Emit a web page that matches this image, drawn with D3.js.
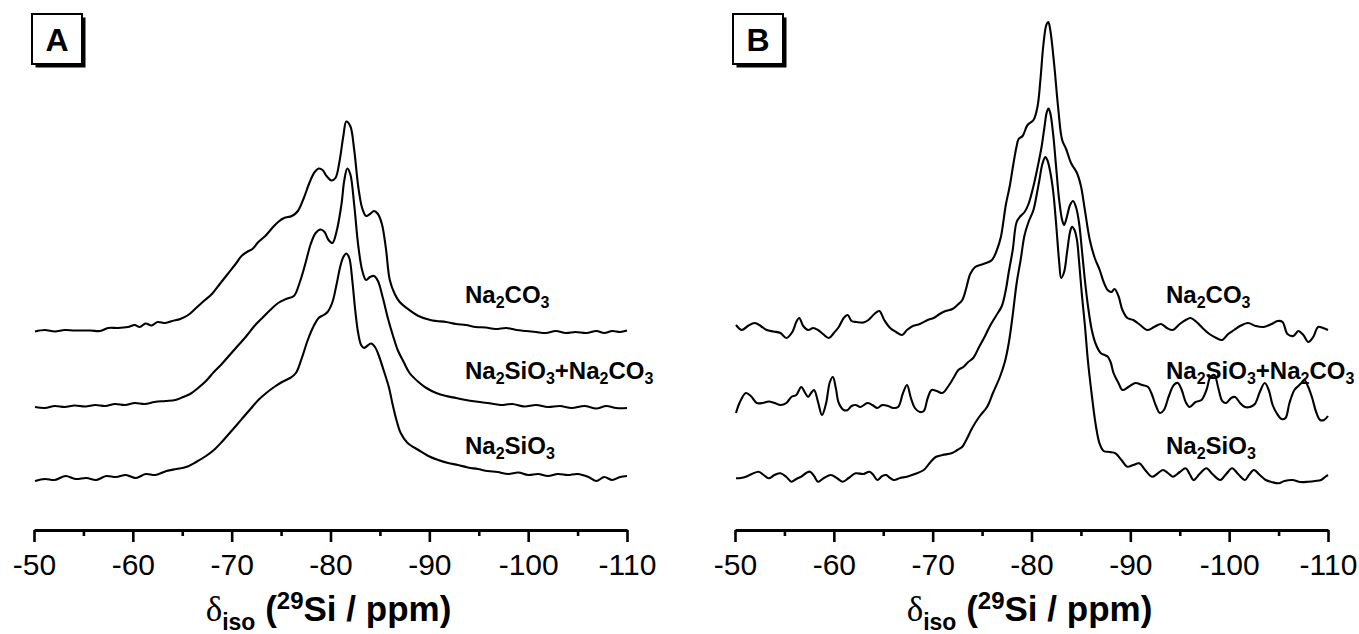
<!DOCTYPE html>
<html><head><meta charset="utf-8">
<script src="https://cdn.jsdelivr.net/npm/d3@7"></script>
<style>body{margin:0;background:#fff} svg{display:block}</style>
</head><body>
<svg id="chart" width="1359" height="634"></svg>
<script>
// ---------- data ----------
const majorTicks = [-50,-60,-70,-80,-90,-100,-110];
const minorTicks = [-55,-65,-75,-85,-95,-105];
const tickLabels = ["-50","-60","-70","-80","-90","-100","-110"];
const panelLabels = ["A","B"];
const sampleNames = ["Na2CO3","Na2SiO3+Na2CO3","Na2SiO3"];
const stackOffsetsA = [198,122,51];
const stackOffsetsB = [202,125,53];

// [ppm, intensity]
const specA_Na2CO3 = [[-50.1,0.5],[-51.1,2],[-52.1,0.5],[-53.1,2],[-54.1,1.5],[-55.7,1.5],[-56.7,1],[-57.5,4],[-58.5,4],[-59.5,5],[-60.2,7],[-60.7,5],[-61.3,8.5],[-61.9,6.5],[-62.5,10],[-63.3,9],[-64.0,11],[-64.8,13],[-65.6,17],[-66.4,24],[-67.3,32],[-68.0,38],[-68.8,48],[-69.6,58],[-70.4,68],[-71.0,76],[-71.7,81],[-72.1,83],[-72.7,90],[-73.4,96],[-74.1,104],[-74.7,110],[-75.3,114],[-76.1,116],[-76.7,121],[-77.3,134],[-77.9,150],[-78.4,160],[-78.8,163.5],[-79.2,162],[-79.6,156],[-80.1,151.5],[-80.5,154],[-80.9,170],[-81.3,196],[-81.6,210.5],[-82.0,206],[-82.4,182],[-82.8,146],[-83.2,124],[-83.6,116],[-84.0,118],[-84.4,121],[-84.8,118],[-85.2,108],[-85.6,84],[-86.0,52],[-86.5,38],[-87.0,30],[-87.7,24],[-88.9,16],[-90.1,12],[-90.7,11],[-91.7,10],[-92.7,8],[-93.7,7],[-94.7,5],[-95.7,4.5],[-96.7,3],[-97.8,4],[-98.8,2],[-99.8,1],[-100.8,0],[-101.8,-1],[-102.8,1],[-103.8,-1],[-104.8,0],[-105.9,-1],[-106.9,1],[-107.7,-1],[-108.5,1],[-109.3,0],[-110.0,1.5]];

const specA_Mix = [[-50.1,1],[-51.1,0],[-52.1,2],[-53.1,1],[-54.1,2.5],[-55.2,1.5],[-56.2,3],[-57.2,2],[-58.2,4],[-59.2,3],[-60.2,5],[-61.2,4],[-62.2,6],[-63.3,7],[-64.3,8],[-65.1,11],[-65.8,14],[-66.6,20],[-67.4,27],[-68.2,36],[-69.0,44],[-69.8,53],[-70.6,62],[-71.5,72],[-72.3,82],[-73.1,90],[-73.9,98],[-74.7,105],[-75.5,109],[-76.3,112],[-76.9,126],[-77.5,146],[-78.0,164],[-78.5,175],[-79.0,178.5],[-79.4,176],[-79.8,168],[-80.2,165],[-80.6,176],[-81.1,203],[-81.4,228],[-81.7,239.5],[-82.0,234],[-82.4,203],[-82.8,163],[-83.2,138],[-83.6,128],[-84.0,131],[-84.4,132],[-84.8,127],[-85.3,110],[-85.8,90],[-86.3,73],[-86.8,58],[-87.4,46],[-88.0,35],[-88.9,26],[-89.7,20],[-90.7,15],[-91.7,12],[-92.7,10],[-93.7,8],[-94.7,6.5],[-95.9,5],[-97.2,3],[-98.4,4],[-99.6,1.5],[-100.8,3],[-102.0,1],[-103.2,2],[-104.4,0],[-105.7,2],[-106.9,-0.5],[-107.9,2],[-108.9,0],[-110.0,0]];

const specA_Na2SiO3 = [[-50.1,-2],[-51.1,0],[-52.1,-1],[-53.2,3],[-54.2,0],[-55.3,1],[-56.3,-1],[-57.3,3],[-58.3,2],[-59.3,4],[-60.3,1],[-61.3,5],[-62.3,4],[-63.4,8],[-64.4,10],[-65.4,12],[-66.4,17],[-67.4,23],[-68.2,29],[-69.0,37],[-69.8,46],[-70.6,55],[-71.2,62],[-71.9,70],[-72.7,79],[-73.5,86],[-74.3,92],[-75.1,97],[-75.9,101],[-76.5,106],[-77.1,121],[-77.7,139],[-78.3,153],[-78.8,161],[-79.3,164],[-79.7,167],[-80.2,177],[-80.6,194],[-81.0,213],[-81.3,222],[-81.6,225.5],[-81.9,221],[-82.2,199],[-82.5,169],[-82.8,146],[-83.1,134],[-83.4,131],[-83.7,133],[-84.1,135.5],[-84.5,132],[-84.9,123],[-85.4,108],[-85.9,92],[-86.3,74],[-86.7,58],[-87.1,46],[-87.8,36],[-88.9,29],[-89.9,23],[-90.9,19],[-91.9,16],[-92.9,14],[-93.9,11.5],[-94.9,10],[-95.9,8],[-96.9,7],[-98.0,5],[-99.0,6.5],[-100.0,4],[-101.0,5],[-102.0,3],[-103.0,5],[-104.0,4],[-105.0,5],[-106.1,2],[-106.9,-2],[-107.7,2],[-108.5,-1],[-109.3,2],[-110.0,3]];

const specB_Na2CO3 = [[-50.1,3],[-50.7,-2],[-51.3,2],[-52.0,5],[-52.6,2],[-53.2,-2],[-53.9,-3.5],[-54.6,-5],[-55.2,-10],[-55.8,-4],[-56.2,6],[-56.5,10],[-56.9,2],[-57.4,-2],[-57.9,0],[-58.4,-2],[-58.9,-6],[-59.5,-10],[-60.0,-5],[-60.5,1],[-61.0,10],[-61.4,13],[-61.8,7],[-62.3,6],[-63.0,5.5],[-63.5,8],[-64.1,14],[-64.6,17],[-65.1,8],[-65.7,0],[-66.3,-4],[-66.9,-7],[-67.4,-2],[-68.0,2],[-68.7,4],[-69.5,8],[-70.1,10],[-70.7,14],[-71.3,17],[-72.0,19],[-72.5,23],[-73.0,28],[-73.4,40],[-73.8,54],[-74.3,61],[-74.8,63],[-75.4,65],[-76.0,68],[-76.5,78],[-76.9,91],[-77.4,123],[-77.8,142],[-78.2,166],[-78.5,182],[-78.7,189],[-79.1,192],[-79.6,203],[-80.2,208],[-80.6,221],[-80.9,248],[-81.2,283],[-81.5,303],[-81.7,306],[-81.9,298],[-82.3,263],[-82.7,220],[-83.1,188],[-83.5,179],[-84.0,165],[-84.6,155],[-85.0,142],[-85.4,118],[-85.9,88],[-86.4,70],[-86.9,58],[-87.3,46],[-87.7,38],[-88.1,36],[-88.4,39],[-88.8,32],[-89.2,18],[-89.7,10],[-90.3,8],[-91.0,3],[-91.7,-2],[-92.4,1],[-93.1,4],[-93.7,0],[-94.3,-2],[-95.0,4],[-95.6,8],[-96.1,10],[-96.7,6],[-97.3,0],[-98.0,-6],[-98.7,-10],[-99.3,-12],[-99.9,-6],[-100.5,-2],[-101.1,2],[-101.9,5],[-102.7,2],[-103.5,1],[-104.3,4],[-104.9,7],[-105.4,6],[-105.9,-6],[-106.5,-8],[-107.0,-3],[-107.5,-7],[-108.0,-14],[-108.5,-9],[-109.0,1],[-109.5,0],[-110.0,-2]];

const specB_Mix = [[-50.1,-8],[-50.5,3],[-51.1,12],[-51.6,9],[-52.2,2],[-52.8,2],[-53.4,3.5],[-54.0,2],[-54.6,0],[-55.2,2],[-55.7,8],[-56.2,10],[-56.7,18],[-57.1,12],[-57.4,8],[-57.7,12],[-58.0,15],[-58.4,3],[-58.8,-10],[-59.2,1],[-59.6,23],[-59.9,28],[-60.2,17],[-60.5,2],[-61.0,-5],[-61.4,-5],[-61.8,-1],[-62.2,0],[-62.7,-2],[-63.4,2],[-63.9,0],[-64.4,-3],[-64.9,0],[-65.5,-1],[-66.0,-3],[-66.5,-2],[-67.0,12],[-67.4,20],[-67.8,7],[-68.2,-3],[-68.7,-7],[-69.1,-6],[-69.5,7],[-69.9,15],[-70.4,14],[-71.0,12],[-71.6,19],[-72.1,27],[-72.6,35],[-73.1,38],[-73.6,43],[-74.1,47],[-74.7,58],[-75.3,69],[-75.8,79],[-76.4,89],[-77.0,99],[-77.4,115],[-77.7,133],[-78.1,155],[-78.5,183],[-78.9,189],[-79.3,193],[-79.7,201],[-80.2,219],[-80.6,237],[-81.0,257],[-81.3,277],[-81.55,293],[-81.72,296.5],[-81.9,292],[-82.2,270],[-82.5,237],[-82.8,205],[-83.1,185],[-83.3,180],[-83.6,189],[-83.9,200],[-84.2,204],[-84.5,198],[-84.8,183],[-85.1,155],[-85.4,125],[-85.7,100],[-86.1,75],[-86.5,61],[-87.0,52],[-87.4,50],[-87.7,48.5],[-88.0,43],[-88.3,32],[-88.8,22],[-89.2,15],[-89.8,18],[-90.5,22],[-91.2,20],[-91.8,18],[-92.2,10],[-92.6,-1],[-93.0,-8],[-93.4,-5],[-93.9,9],[-94.4,20],[-94.8,22],[-95.2,15],[-95.6,3],[-96.0,-2],[-96.6,3],[-97.2,5],[-97.7,15],[-98.1,28],[-98.5,30],[-98.9,17],[-99.3,4],[-99.7,2],[-100.2,7],[-100.6,8],[-101.1,2],[-101.6,-2],[-102.1,-2],[-102.6,1],[-103.1,13],[-103.6,22],[-104.0,15],[-104.4,0],[-104.8,-8],[-105.3,-14],[-105.7,-13],[-106.1,2],[-106.6,15],[-107.0,19],[-107.3,22],[-107.6,25],[-108.0,18],[-108.4,7],[-108.8,-7],[-109.2,-15],[-109.6,-15],[-110.0,-11]];

const specB_Na2SiO3 = [[-50.1,-1.3],[-50.6,-1],[-51.1,0.3],[-51.7,3],[-52.4,5.3],[-52.9,2],[-53.4,-1.3],[-54.0,2],[-54.6,3.7],[-55.2,0],[-55.7,-4.7],[-56.2,-2],[-56.7,0.3],[-57.2,4],[-57.6,5.3],[-58.0,1],[-58.4,-4.7],[-59.0,-1],[-59.7,2],[-60.3,-1],[-60.9,-4.7],[-61.5,-1],[-62.2,3.7],[-63.0,3],[-63.6,5.3],[-64.0,2],[-64.4,-3],[-64.9,1],[-65.3,2],[-65.7,-1],[-66.1,-3],[-66.7,-1],[-67.4,0.3],[-68.2,3],[-69.1,7],[-69.7,14],[-70.3,20],[-71.0,22],[-71.9,23.7],[-72.5,27],[-73.0,30.3],[-73.4,37],[-74.0,49],[-74.7,60],[-75.5,70],[-76.1,84],[-76.8,100],[-77.3,115],[-77.7,134],[-78.1,162],[-78.5,194],[-78.9,217],[-79.3,242],[-79.7,255],[-80.2,267],[-80.5,281],[-80.8,297],[-81.1,313],[-81.4,320],[-81.6,317],[-81.9,305],[-82.2,285],[-82.5,252],[-82.8,215],[-83.0,199],[-83.3,205],[-83.6,225],[-83.9,245],[-84.1,250.3],[-84.35,247],[-84.6,237],[-84.8,217],[-85.1,182],[-85.4,152],[-85.7,117],[-86.1,82],[-86.5,52],[-86.9,33],[-87.3,26],[-87.9,25],[-88.5,23.7],[-89.1,17],[-89.7,10.3],[-90.3,12],[-90.9,13.7],[-91.5,7],[-92.2,0.3],[-92.7,3],[-93.3,7],[-93.8,4],[-94.3,0.3],[-95.0,5],[-95.6,8.7],[-96.0,3],[-96.4,-3],[-97.0,3],[-97.7,8.7],[-98.3,3],[-99.1,-3],[-99.7,3],[-100.3,8.7],[-100.9,3],[-101.6,-3],[-102.0,2],[-102.5,7],[-103.1,2],[-103.7,-3],[-104.3,-5],[-105.0,-6.3],[-105.6,-4],[-106.4,-3],[-107.2,-5],[-108.0,-4.7],[-108.7,-4],[-109.3,-3],[-109.7,0],[-110.0,2]];

// ---------- drawing ----------
const svg = d3.select("#chart");
const FONT = "'Liberation Sans', Arial, Helvetica, sans-serif";
const y = d3.scaleLinear().domain([0, 500]).range([530, 30]);

const panels = [
  {label: panelLabels[0], x0: 34, x1: 627, offsets: stackOffsetsA, specs: [specA_Na2CO3, specA_Mix, specA_Na2SiO3]},
  {label: panelLabels[1], x0: 735, x1: 1328, offsets: stackOffsetsB, specs: [specB_Na2CO3, specB_Mix, specB_Na2SiO3]}
];
const labelBaselines = [303, 378.5, 454];

panels.forEach(p => {
  const x = d3.scaleLinear().domain([-50, -110]).range([p.x0, p.x1]);
  const g = svg.append("g");

  // spectra
  p.specs.forEach((spec, i) => {
    const line = d3.line()
      .x(d => x(d[0]))
      .y(d => y(d[1] + p.offsets[i]))
      .curve(d3.curveCatmullRom.alpha(0.5));
    g.append("path").datum(spec)
      .attr("d", line)
      .attr("fill", "none")
      .attr("stroke", "#000")
      .attr("stroke-width", 2.1)
      .attr("stroke-linejoin", "round");
  });

  // sample labels with subscripts
  sampleNames.forEach((name, i) => {
    const t = g.append("text")
      .attr("x", p.x0 + 431).attr("y", labelBaselines[i])
      .attr("font-family", FONT).attr("font-weight", "bold")
      .attr("font-size", 24).attr("fill", "#000");
    let lowered = false;
    name.split(/(\d+)/).filter(s => s.length).forEach(part => {
      if (/^\d+$/.test(part)) {
        t.append("tspan").attr("font-size", 16).attr("dy", 5).text(part);
        lowered = true;
      } else {
        const s = t.append("tspan").text(part);
        if (lowered) { s.attr("dy", -5); lowered = false; }
      }
    });
  });

  // axis
  const axisG = g.append("g").attr("transform", `translate(0,${y(0)})`);
  axisG.call(d3.axisBottom(x).tickValues(majorTicks)
      .tickFormat((d, i) => tickLabels[i])
      .tickSize(12).tickSizeOuter(0).tickPadding(12));
  axisG.select(".domain").attr("stroke-width", 3).attr("stroke", "#000");
  axisG.selectAll(".tick line").attr("stroke-width", 2.6).attr("stroke", "#000");
  axisG.selectAll(".tick text").attr("font-family", FONT).attr("font-size", 30).attr("fill", "#000");

  const minorG = g.append("g").attr("transform", `translate(0,${y(0)})`);
  minorG.call(d3.axisBottom(x).tickValues(minorTicks).tickSize(6).tickSizeOuter(0));
  minorG.select(".domain").remove();
  minorG.selectAll("text").remove();
  minorG.selectAll(".tick line").attr("stroke-width", 2.6).attr("stroke", "#000");

  // axis title
  const cx = (p.x0 + p.x1) / 2 - 2;
  const title = g.append("text").attr("x", cx).attr("y", 621)
    .attr("text-anchor", "middle").attr("font-family", FONT)
    .attr("font-size", 35).attr("font-weight", "bold").attr("fill", "#000");
  title.append("tspan").attr("font-weight", "normal").attr("font-family", "'Liberation Serif', serif").text("\u03B4");
  title.append("tspan").attr("font-size", 23).attr("dy", 9).text("iso");
  title.append("tspan").attr("dy", -9).text(" (");
  title.append("tspan").attr("font-size", 24).attr("dy", -12).text("29");
  title.append("tspan").attr("dy", 12).text("Si / ppm)");

  // panel letter box
  const bx = p.x0 - 2, by = 14, bs = 50;
  g.append("rect").attr("x", bx + 3.5).attr("y", by + 3.5).attr("width", bs).attr("height", bs).attr("fill", "#000");
  g.append("rect").attr("x", bx).attr("y", by).attr("width", bs).attr("height", bs)
    .attr("fill", "#fff").attr("stroke", "#000").attr("stroke-width", 2);
  g.append("text").attr("x", bx + bs / 2).attr("y", by + 37)
    .attr("text-anchor", "middle").attr("font-family", FONT)
    .attr("font-weight", "bold").attr("font-size", 32).attr("fill", "#000").text(p.label);
});
</script>
</body></html>
